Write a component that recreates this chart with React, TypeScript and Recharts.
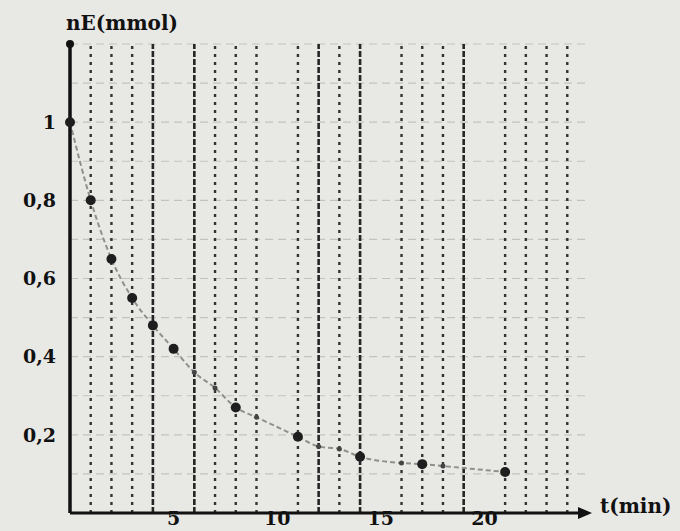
import {
  ComposedChart,
  Line,
  Scatter,
  XAxis,
  YAxis,
  ReferenceLine,
  ReferenceDot,
} from 'recharts';

// curve through every marked point (t in min, nE in mmol)
const curveT = [0, 1, 2, 3, 4, 5, 6, 7, 8, 9, 11, 12, 13, 14, 16, 17, 18, 21];
const curveN = [1, 0.8, 0.65, 0.55, 0.48, 0.42, 0.36, 0.32, 0.27, 0.245, 0.195, 0.17, 0.164, 0.144, 0.128, 0.125, 0.12, 0.105];

// heavy measured points
const measuredT = [0, 1, 2, 3, 4, 5, 8, 11, 14, 17, 21];
const measuredN = [1, 0.8, 0.65, 0.55, 0.48, 0.42, 0.27, 0.195, 0.144, 0.125, 0.105];

const xTicks = [5, 10, 15, 20];
const yTicks = [0.2, 0.4, 0.6, 0.8, 1];

// dotted vertical rulings of the paper
const gridT = [1, 2, 3, 4, 6, 7, 8, 9, 11, 12, 13, 14, 16, 17, 18, 19, 21, 22, 23, 24];
const heavyGridT = [4, 6, 12, 14, 19];
const gridN = [0.1, 0.2, 0.3, 0.4, 0.5, 0.6, 0.7, 0.8, 0.9, 1, 1.1, 1.2];

const curve = curveT.map((t, i) => ({ t, n: curveN[i] }));
const measured = measuredT.map((t, i) => ({ t, n: measuredN[i] }));

const font = 'DejaVu Serif';
const tickStyle = { fill: '#111', fontSize: 19, fontWeight: 700, fontFamily: font };

const Arrow = (props: any) => {
  const { cx, cy } = props;
  return <path d={`M${cx + 4},${cy} L${cx - 10},${cy - 6} L${cx - 10},${cy + 6} Z`} fill='#111' />;
};

const Dot = (props: any) => {
  const { cx, cy } = props;
  return <circle cx={cx} cy={cy} r={5} fill='#1e1e1e' />;
};

export default function App() {
  return (
    <div style={{ position: 'absolute', left: 0, top: 0, width: 680, height: 531, background: '#e8e8e5' }}>
      <ComposedChart
        width={680}
        height={531}
        margin={{ top: 44, right: 92, left: 0, bottom: 0 }}
      >
        {gridN.map((n) => (
          <ReferenceLine
            key={'h' + n}
            y={n}
            stroke='#c2c2bf'
            strokeWidth={1.2}
            strokeDasharray='8 5'
            ifOverflow='visible'
          />
        ))}
        {gridT.map((t) => {
          const heavy = heavyGridT.includes(t);
          return (
            <ReferenceLine
              key={'v' + t}
              segment={[{ x: t, y: 0 }, { x: t, y: 1.2 }]}
              stroke={heavy ? '#262626' : '#333'}
              strokeWidth={heavy ? 2.6 : 2.4}
              strokeDasharray={heavy ? '6 2' : '3 5'}
            />
          );
        })}
        <XAxis
          type='number'
          dataKey='t'
          domain={[0, 25]}
          ticks={xTicks}
          height={18}
          axisLine={{ stroke: '#111', strokeWidth: 3 }}
          tickLine={false}
          tick={tickStyle}
          tickMargin={-7}
          label={{
            value: 't(min)',
            position: 'right',
            offset: 12,
            dy: -16,
            style: { fill: '#111', fontSize: 20, fontWeight: 700, fontFamily: font },
          }}
        />
        <YAxis
          type='number'
          dataKey='n'
          domain={[0, 1.2]}
          ticks={yTicks}
          width={70}
          axisLine={{ stroke: '#111', strokeWidth: 3.5 }}
          tickLine={false}
          tick={tickStyle}
          tickMargin={8}
          tickFormatter={(v: number) => String(v).replace('.', ',')}
          label={{
            value: 'nE(mmol)',
            position: 'top',
            offset: 14,
            dx: 87,
            style: { fill: '#111', fontSize: 20, fontWeight: 700, fontFamily: font },
          }}
        />
        <ReferenceDot x={0} y={1.2} r={4} fill='#111' stroke='none' ifOverflow='visible' />
        <ReferenceDot x={25} y={0} r={5} shape={Arrow} ifOverflow='visible' />
        <Line
          data={curve}
          dataKey='n'
          type='monotone'
          stroke='#8f8f8c'
          strokeWidth={2}
          strokeDasharray='5 3'
          dot={{ r: 2.5, fill: '#444', stroke: 'none' }}
          isAnimationActive={false}
        />
        <Scatter
          data={measured}
          dataKey='n'
          shape={Dot}
          isAnimationActive={false}
        />
      </ComposedChart>
    </div>
  );
}
